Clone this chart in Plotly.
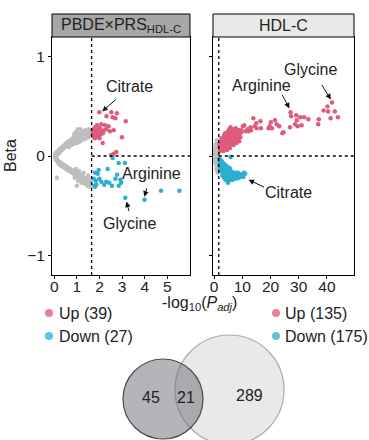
import plotly.graph_objects as go

W, H = 369, 440

# ---------------- data ----------------
# Left panel: PBDE x PRS_HDL-C
left_up_x = [1.99, 2.52, 2.77, 2.31, 2.58, 2.70, 3.16, 2.08, 2.24, 2.40, 1.89, 1.74, 2.02, 1.83, 1.93,
             2.04, 1.74, 1.86, 1.97, 2.11, 2.63, 2.21, 2.99, 2.14, 2.74, 2.62, 2.52, 1.80, 1.71, 2.46,
             1.78, 1.95, 2.05, 1.90, 2.15, 1.80, 2.30, 1.70, 2.00]
left_up_b = [0.44, 0.44, 0.43, 0.40, 0.39, 0.38, 0.35, 0.32, 0.31, 0.30, 0.31, 0.27, 0.28, 0.25, 0.23,
             0.22, 0.22, 0.20, 0.20, 0.25, 0.26, 0.26, 0.19, 0.13, 0.04, 0.02, 0.01, 0.18, 0.24, 0.25,
             0.26, 0.27, 0.25, 0.21, 0.23, 0.29, 0.27, 0.20, 0.18]
left_dn_x = [2.58, 2.85, 3.12, 1.96, 1.81, 2.36, 1.99, 1.84, 1.74, 2.30, 2.70, 2.92, 2.96, 2.43,
             2.21, 1.77, 1.80, 2.55, 2.85, 4.72, 5.53, 3.99, 3.14, 1.92, 2.08, 2.78, 1.86]
left_dn_b = [-0.02, -0.07, -0.07, -0.14, -0.17, -0.13, -0.23, -0.25, -0.23, -0.26, -0.23, -0.24, -0.27, -0.27,
             -0.29, -0.30, -0.31, -0.30, -0.30, -0.35, -0.35, -0.44, -0.42, -0.18, -0.26, -0.19, -0.29]
left_ns_x = [0.02, 0.04, 0.03, 0.06, 0.10, 0.09,
             0.05, 0.08, 0.10, 0.12, 0.15, 0.18, 0.20, 0.22, 0.25, 0.28, 0.30, 0.33, 0.35, 0.38, 0.40, 0.42,
             0.45, 0.48, 0.50, 0.52, 0.55, 0.58, 0.60, 0.62, 0.65, 0.68, 0.70, 0.72, 0.75, 0.78, 0.80, 0.82,
             0.85, 0.88, 0.90, 0.92, 0.95, 0.98, 1.00, 1.02, 1.05, 1.08, 1.10, 1.12, 1.15, 1.18, 1.20, 1.22,
             1.25, 1.28, 1.30, 1.32, 1.35, 1.38, 1.40, 1.42, 1.45, 1.48, 1.50, 1.52, 1.55, 1.58, 1.60, 1.62,
             1.04, 0.95, 0.88, 1.15, 0.60, 0.70, 0.85, 1.00, 1.20, 1.40, 1.30, 1.50, 1.10, 0.75, 0.65,
             0.05, 0.08, 0.12, 0.15, 0.18, 0.20, 0.24, 0.27, 0.30, 0.33, 0.36, 0.40, 0.43, 0.46, 0.50, 0.53,
             0.56, 0.60, 0.63, 0.66, 0.70, 0.73, 0.76, 0.80, 0.83, 0.86, 0.90, 0.93, 0.96, 1.00, 1.03, 1.06,
             1.10, 1.13, 1.16, 1.20, 1.23, 1.26, 1.30, 1.33, 1.36, 1.40, 1.43, 1.46, 1.50, 1.53, 1.56, 1.60,
             1.62, 1.58, 1.48, 1.35, 1.20, 1.05, 0.90, 1.10, 1.30, 1.50, 1.00, 0.12, 1.45, 1.55, 1.25, 0.95]
left_ns_b = [0.00, 0.02, -0.01, 0.00, 0.01, -0.02,
             0.01, 0.03, -0.01, 0.04, 0.02, 0.05, 0.06, 0.03, 0.07, 0.05, 0.08, 0.06, 0.09, 0.07, 0.10, 0.08,
             0.11, 0.09, 0.12, 0.10, 0.13, 0.11, 0.14, 0.12, 0.15, 0.13, 0.16, 0.12, 0.15, 0.17, 0.14, 0.18,
             0.16, 0.19, 0.15, 0.17, 0.20, 0.18, 0.21, 0.16, 0.19, 0.22, 0.18, 0.20, 0.23, 0.19, 0.21, 0.24,
             0.20, 0.22, 0.25, 0.21, 0.23, 0.26, 0.22, 0.24, 0.20, 0.25, 0.23, 0.27, 0.24, 0.22, 0.26, 0.25,
             0.27, 0.24, 0.22, 0.27, 0.10, 0.11, 0.12, 0.13, 0.16, 0.18, 0.17, 0.19, 0.14, 0.11, 0.09,
             -0.02, -0.04, -0.03, -0.06, -0.05, -0.08, -0.06, -0.09, -0.07, -0.10, -0.08, -0.11, -0.09, -0.12, -0.10, -0.13,
             -0.11, -0.14, -0.12, -0.15, -0.13, -0.16, -0.14, -0.17, -0.15, -0.18, -0.16, -0.19, -0.17, -0.20, -0.18, -0.21,
             -0.19, -0.22, -0.20, -0.23, -0.21, -0.24, -0.22, -0.25, -0.23, -0.26, -0.24, -0.27, -0.25, -0.28, -0.26, -0.29,
             -0.27, -0.31, -0.30, -0.28, -0.27, -0.25, -0.22, -0.15, -0.17, -0.20, -0.30, -0.22, -0.23, -0.24, -0.19, -0.13]

# Right panel: HDL-C
right_up_x = [41.8, 40.2, 38.8, 40.4, 42.8, 43.9, 41.3, 37.1, 36.9, 27.1, 27.3, 29.1, 30.5, 31.9, 33.4,
              29.3, 28.7, 31.0, 29.6, 26.9, 24.2, 21.6, 20.1, 22.2, 23.1, 19.7, 20.5, 16.6, 14.9, 13.9,
              14.4, 12.9, 11.9, 11.2, 10.2, 9.7, 8.4, 7.6, 5.8, 5.2, 4.1, 3.5, 2.9, 2.3, 2.0, 8.9, 7.1,
              6.3, 16.4, 10.7, 12.2, 13.1, 15.1, 19.3, 24.6,
              2.0, 2.2, 2.5, 2.8, 3.0, 3.2, 3.5, 3.8, 4.0, 4.2, 4.5, 4.8, 5.0, 5.2, 5.5, 5.8, 6.0, 6.2,
              6.5, 6.8, 7.0, 7.2, 7.5, 7.8, 8.0, 8.2, 8.5, 8.8, 9.0, 9.3, 9.6, 2.3, 2.7, 3.3, 3.7,
              4.3, 4.7, 5.3, 5.7, 6.3, 6.7, 7.3, 7.7, 2.1, 2.4, 3.1, 3.6, 4.4, 5.1, 6.1, 6.9, 7.9, 8.6,
              1.9, 2.6, 3.4, 4.6, 5.6, 4.9, 3.9, 5.4, 6.6, 7.4, 8.1]
right_up_b = [0.54, 0.50, 0.46, 0.45, 0.45, 0.39, 0.38, 0.37, 0.32, 0.44, 0.40, 0.41, 0.39, 0.39, 0.37,
              0.36, 0.32, 0.31, 0.30, 0.29, 0.23, 0.36, 0.34, 0.32, 0.30, 0.30, 0.28, 0.28, 0.33, 0.38,
              0.30, 0.29, 0.27, 0.25, 0.30, 0.26, 0.22, 0.21, 0.29, 0.18, 0.20, 0.17, 0.15, 0.13, 0.11, 0.15, 0.14,
              0.12, 0.35, 0.31, 0.25, 0.26, 0.28, 0.28, 0.24,
              0.08, 0.10, 0.12, 0.09, 0.14, 0.11, 0.16, 0.13, 0.18, 0.15, 0.12, 0.17, 0.20, 0.14, 0.19, 0.16, 0.22, 0.18,
              0.21, 0.15, 0.23, 0.19, 0.25, 0.21, 0.18, 0.24, 0.20, 0.26, 0.22, 0.19, 0.24, 0.13, 0.15, 0.18, 0.10,
              0.20, 0.22, 0.24, 0.12, 0.25, 0.27, 0.14, 0.28, 0.05, 0.07, 0.07, 0.21, 0.09, 0.10, 0.14, 0.11, 0.13, 0.16,
              0.12, 0.18, 0.05, 0.06, 0.08, 0.25, 0.23, 0.27, 0.17, 0.17, 0.20]
right_dn_x = [5.8, 4.6, 4.9, 7.1, 8.9, 11.0, 10.2, 8.4,
              1.8, 2.0, 2.2, 2.4, 2.6, 2.8, 3.0, 3.2, 3.4, 3.6, 3.8, 4.0, 4.2, 4.4, 4.6, 4.8, 5.0, 5.2,
              5.4, 5.6, 5.8, 6.0, 6.2, 6.4, 6.6, 6.8, 7.0, 7.3, 7.6, 7.9, 8.2, 8.6, 9.0, 9.5, 10.0, 10.6,
              1.9, 2.1, 2.3, 2.5, 2.7, 2.9, 3.1, 3.3, 3.5, 3.7, 3.9, 4.1, 4.3, 4.5, 4.7, 4.9, 5.1, 5.3,
              5.5, 5.7, 5.9, 6.1, 6.3, 6.5, 6.7, 6.9, 7.2, 7.5, 7.8, 8.1, 8.5, 9.2, 9.8,
              2.0, 2.4, 2.8, 3.2, 3.6, 4.0, 4.4, 4.8, 5.2, 5.6, 6.0, 6.4, 6.8, 2.2, 2.6, 3.0, 3.4, 3.8,
              4.2, 4.6, 5.0, 5.4, 5.8, 6.2, 6.6, 7.0, 7.4, 2.1, 2.5, 2.9, 3.3, 3.7, 4.1, 4.5, 4.9, 5.3,
              5.7, 6.1, 1.9, 2.3, 2.7, 3.1, 3.5, 3.9, 4.3, 4.7, 5.1, 5.5, 3.0, 3.5, 4.0, 5.0, 6.5, 7.7, 8.8, 10.4]
right_dn_b = [-0.01, -0.25, -0.27, -0.21, -0.19, -0.18, -0.21, -0.17,
              -0.03, -0.05, -0.04, -0.07, -0.06, -0.08, -0.07, -0.10, -0.09, -0.11, -0.10, -0.12, -0.11, -0.13, -0.12, -0.14, -0.13, -0.15,
              -0.14, -0.16, -0.15, -0.17, -0.16, -0.18, -0.17, -0.19, -0.18, -0.17, -0.19, -0.18, -0.17, -0.19, -0.18, -0.20, -0.19, -0.17,
              -0.06, -0.08, -0.09, -0.10, -0.12, -0.11, -0.13, -0.14, -0.13, -0.15, -0.14, -0.16, -0.15, -0.17, -0.16, -0.18, -0.17, -0.19,
              -0.18, -0.20, -0.19, -0.21, -0.20, -0.22, -0.19, -0.21, -0.20, -0.22, -0.21, -0.20, -0.22, -0.21, -0.20,
              -0.10, -0.12, -0.14, -0.16, -0.17, -0.19, -0.20, -0.21, -0.22, -0.23, -0.22, -0.23, -0.22, -0.07, -0.09, -0.11, -0.12, -0.13,
              -0.14, -0.15, -0.16, -0.17, -0.17, -0.18, -0.19, -0.19, -0.20, -0.13, -0.15, -0.17, -0.18, -0.19, -0.21, -0.22, -0.23, -0.24,
              -0.24, -0.24, -0.09, -0.11, -0.05, -0.07, -0.08, -0.09, -0.10, -0.11, -0.12, -0.12, -0.20, -0.22, -0.24, -0.25, -0.24, -0.23, -0.22, -0.21]
right_ns_x = [0.0, 0.2, 0.1, 0.3, 0.4, 0.5, 0.6, 0.7, 0.8, 0.9, 1.0, 1.1, 1.2, 1.3, 1.4, 1.5, 1.6,
              0.3, 0.5, 0.7, 0.9, 1.1, 1.3, 1.5, 1.6, 0.2, 0.4, 1.0, 1.2, 0.6, 0.8, 1.7, 1.7,
              0.1, 0.3, 0.5, 0.7, 0.9, 1.1, 1.3, 1.5]
right_ns_b = [0.00, 0.02, -0.03, 0.05, -0.05, 0.07, -0.07, 0.09, -0.09, 0.11, -0.11, 0.12, -0.13, 0.14, -0.14, 0.15, -0.15,
              -0.01, 0.03, -0.04, 0.06, -0.06, 0.08, -0.09, 0.10, -0.06, 0.09, 0.16, -0.17, 0.12, -0.13, 0.05, -0.04,
              0.04, -0.02, -0.02, 0.02, -0.01, 0.03, -0.03, 0.01]

sig_threshold = 1.65
legend_left = ["Up (39)", "Down (27)"]
legend_right = ["Up (135)", "Down (175)"]
venn_counts = ["45", "21", "289"]

RED = "#DE5B7C"
BLUE = "#2EAECF"
GRAY = "#BEBEBE"
FONT = "Liberation Sans, Arial, sans-serif"
FS = 16

def px(x):
    return x / W

def py(y):
    return 1 - y / H

fig = go.Figure()

def add_pts(x, y, color, xa, ya):
    fig.add_trace(go.Scatter(x=x, y=y, mode="markers", xaxis=xa, yaxis=ya, showlegend=False,
                             marker=dict(color=color, size=4.5, line=dict(width=0)), hoverinfo="skip"))

add_pts(left_ns_x, left_ns_b, GRAY, "x", "y")
add_pts(left_up_x, left_up_b, RED, "x", "y")
add_pts(left_dn_x, left_dn_b, BLUE, "x", "y")
add_pts(right_ns_x, right_ns_b, GRAY, "x2", "y2")
add_pts(right_up_x, right_up_b, RED, "x2", "y2")
add_pts(right_dn_x, right_dn_b, BLUE, "x2", "y2")

y_dom = [py(275), py(37)]
axis_common = dict(showline=True, linecolor="black", linewidth=1, mirror=True, showgrid=False,
                   zeroline=False, ticks="outside", ticklen=3, tickcolor="black",
                   tickfont=dict(size=15.5, color="#222", family=FONT))
fig.update_layout(
    xaxis=dict(domain=[px(52), px(190)], range=[-0.1, 6.0], tickvals=[0, 1, 2, 3, 4, 5],
               ticklabelstandoff=-6, **axis_common),
    yaxis=dict(domain=y_dom, range=[-1.2, 1.2], tickvals=[-1, 0, 1], anchor="x", **axis_common),
    xaxis2=dict(domain=[px(213), px(354)], range=[-0.4, 49.6], tickvals=[0, 10, 20, 30, 40], anchor="y2",
                ticklabelstandoff=-6, **axis_common),
    yaxis2=dict(domain=y_dom, range=[-1.2, 1.2], tickvals=[-1, 0, 1], showticklabels=False, anchor="x2",
                **axis_common),
)

shapes = []
dot = dict(color="black", width=1.3, dash="dot")
shapes.append(dict(type="line", xref="x", yref="y domain", x0=sig_threshold, x1=sig_threshold, y0=0, y1=1, line=dot))
shapes.append(dict(type="line", xref="x2", yref="y2 domain", x0=sig_threshold, x1=sig_threshold, y0=0, y1=1, line=dot))
shapes.append(dict(type="line", xref="x", yref="y", x0=sig_threshold, x1=6.0, y0=0, y1=0, line=dot))
shapes.append(dict(type="line", xref="x2", yref="y2", x0=sig_threshold, x1=49.6, y0=0, y1=0, line=dot))
# header strips
shapes.append(dict(type="rect", xref="x domain", yref="paper", x0=0, x1=1, y0=py(37), y1=py(14),
                   fillcolor="#A7A7A7", line=dict(color="black", width=1)))
shapes.append(dict(type="rect", xref="x2 domain", yref="paper", x0=0, x1=1, y0=py(37), y1=py(14),
                   fillcolor="#E8E8E8", line=dict(color="black", width=1)))
# legend dots
for cx, cy, col in [(49, 313, "#E8819B"), (49, 336, "#5CC6E2"), (276, 313, "#E8819B"), (276, 336, "#5CC6E2")]:
    shapes.append(dict(type="circle", xref="paper", yref="paper", x0=px(cx - 4), x1=px(cx + 4),
                       y0=py(cy + 4), y1=py(cy - 4), fillcolor=col, line=dict(width=0)))
# Venn
shapes.append(dict(type="circle", xref="paper", yref="paper", x0=px(175), x1=px(284), y0=py(444.5), y1=py(335),
                   fillcolor="#E9E9E9", line=dict(color="#ABABAB", width=1.2)))
shapes.append(dict(type="circle", xref="paper", yref="paper", x0=px(123), x1=px(203), y0=py(439), y1=py(359),
                   fillcolor="rgba(105,108,115,0.5)", line=dict(color="#4A4A4A", width=1.2)))
fig.update_layout(shapes=shapes)

ann = []
def text(x, y, s, xref="paper", yref="paper", size=FS, xanchor="center", **kw):
    ann.append(dict(x=x, y=y, xref=xref, yref=yref, text=s, showarrow=False, xanchor=xanchor, yanchor="middle",
                    font=dict(size=size, color="#222", family=FONT), **kw))

def arrow(x, y, axp, ayp, xref, yref):
    ann.append(dict(x=x, y=y, xref=xref, yref=yref, text="", showarrow=True, ax=axp, ay=ayp,
                    arrowhead=2, arrowsize=1.1, arrowwidth=1, arrowcolor="#111", standoff=0, startstandoff=0))

# headers
text(px(121), py(26), "PBDE×PRS<sub>HDL-C</sub>")
text(px(283.5), py(25.5), "HDL-C")
# left labels
text(3.32, 0.70, "Citrate", "x", "y")
arrow(2.12, 0.45, 15, -13, "x", "y")
text(4.29, -0.18, "Arginine", "x", "y")
arrow(3.98, -0.41, 3, -10, "x", "y")
text(3.32, -0.68, "Glycine", "x", "y")
arrow(3.19, -0.46, 3, 11, "x", "y")
# right labels
text(34.3, 0.87, "Glycine", "x2", "y2")
arrow(41.4, 0.57, -10, -16, "x2", "y2")
text(16.9, 0.71, "Arginine", "x2", "y2")
arrow(26.7, 0.48, -8, -15, "x2", "y2")
text(26.3, -0.37, "Citrate", "x2", "y2")
arrow(12.2, -0.24, 17, 8, "x2", "y2")
# axis titles
text(px(11), py(156), "Beta", textangle=-90)
text(px(200), py(303), "-log<sub>10</sub>(<i>P</i><sub><i>adj</i></sub>)")
# legends
text(px(57), py(313), legend_left[0], xanchor="left")
text(px(57), py(336), legend_left[1], xanchor="left")
text(px(283), py(313), legend_right[0], xanchor="left")
text(px(283), py(336), legend_right[1], xanchor="left")
# venn numbers
text(px(151), py(397), venn_counts[0])
text(px(186), py(397), venn_counts[1])
text(px(249), py(395), venn_counts[2])
fig.update_layout(annotations=ann)

fig.update_layout(width=W, height=H, margin=dict(l=0, r=0, t=0, b=0, autoexpand=False),
                  paper_bgcolor="white", plot_bgcolor="white", showlegend=False,
                  font=dict(family=FONT, size=FS, color="#222"))

fig.write_html("out.html", config={"displayModeBar": False},
               post_script="document.body.style.margin='0';document.body.style.padding='0';")
